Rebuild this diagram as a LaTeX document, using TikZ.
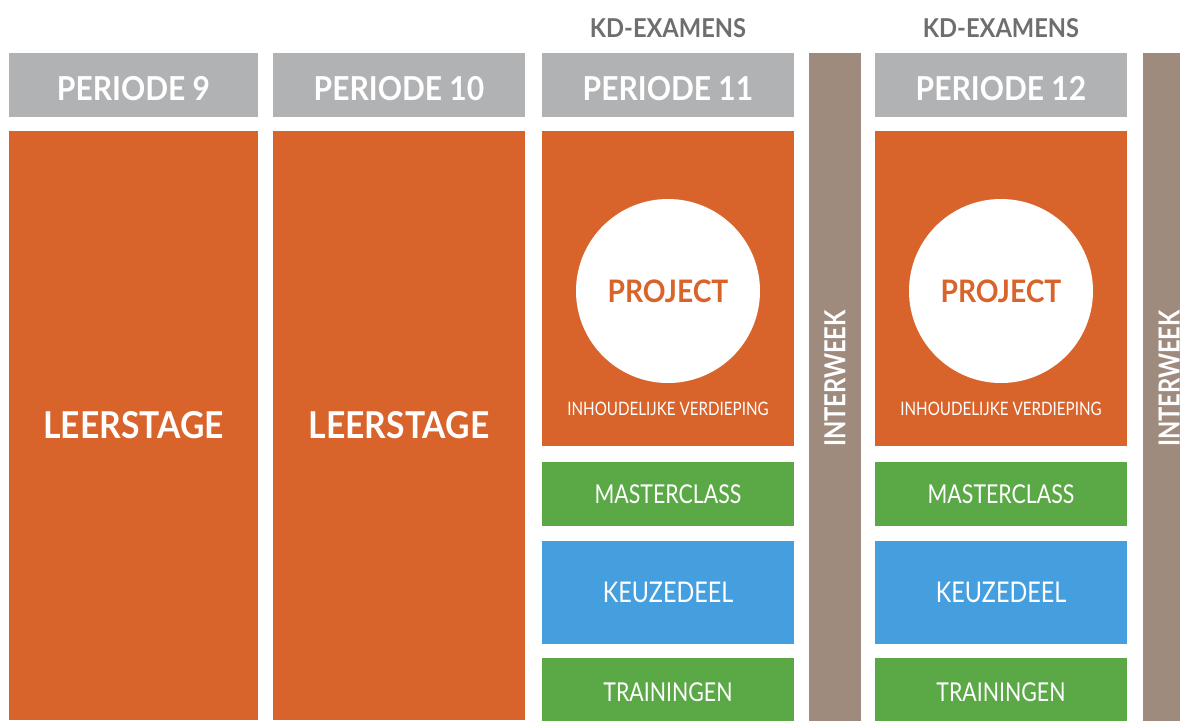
\documentclass[tikz,border=0pt]{standalone}
\usepackage{fontspec}
\setmainfont{Lato}[FakeStretch=0.91]
\newfontfamily\narrowfont{Lato}[FakeStretch=0.82]
\usetikzlibrary{positioning}
\definecolor{headcolor}{RGB}{177,178,180}
\definecolor{stagecolor}{RGB}{217,100,43}
\definecolor{greencolor}{RGB}{91,168,70}
\definecolor{bluecolor}{RGB}{69,158,221}
\definecolor{weekcolor}{RGB}{158,139,125}
\definecolor{examcolor}{RGB}{109,110,112}

\begin{document}
\begin{tikzpicture}[x=1pt,y=1pt,node distance=14pt,outer sep=0pt,inner sep=0pt,
periode/.style={
  fill=headcolor,
  minimum width=252pt,
  minimum height=64pt,
  text=white,
  text height=31pt,
  text depth=0pt,
  font={\fontsize{33}{33}\selectfont\bfseries}},
stage/.style={
  fill=stagecolor,
  minimum width=252pt,
  text=white,
  font={\fontsize{37}{37}\selectfont\bfseries}},
block/.style={
  minimum width=252pt,
  text=white,
  font={\fontsize{26}{26}\selectfont\narrowfont}},
interweek/.style={
  fill=weekcolor,
  minimum width=52pt,
  minimum height=680pt,
  anchor=north west},
]
\useasboundingbox (0,0) rectangle (1180,-720);

% kopjes
\node[periode,minimum width=249pt,anchor=north west] (P9) at (9,-53) {PERIODE 9};
\node[periode,anchor=north west] (P10) at (273,-53) {PERIODE 10};
\node[periode,anchor=north west] (P11) at (542,-53) {PERIODE 11};
\node[periode,anchor=north west] (P12) at (875,-53) {PERIODE 12};
\node[interweek] (IW1) at (809,-53) {};
\node[interweek] (IW2) at (1143,-53) {};
\node[text=examcolor,font={\fontsize{26}{26}\selectfont\bfseries},above=15pt of P11] (KD11) {KD-EXAMENS};
\node[text=examcolor,font={\fontsize{26}{26}\selectfont\bfseries},above=15pt of P12] (KD12) {KD-EXAMENS};

% leerstage
\node[stage,minimum width=249pt,minimum height=589pt,below=of P9] (LS9) {LEERSTAGE};
\node[stage,minimum height=589pt,below=of P10] (LS10) {LEERSTAGE};

% interweek
\node[rotate=90,text=white,font={\fontsize{29}{29}\selectfont\narrowfont\bfseries}] at ([yshift=14.5pt]IW1.center) (IWT1) {INTERWEEK};
\node[rotate=90,text=white,font={\fontsize{29}{29}\selectfont\narrowfont\bfseries}] at ([yshift=14.5pt]IW2.center) (IWT2) {INTERWEEK};

% periode 11 en 12
\foreach \p in {11,12}{
  \node[stage,minimum height=315pt,below=of P\p] (PRJ\p) {};
  \node[circle,fill=white,minimum size=184pt,text=stagecolor,
    font={\fontsize{31}{31}\selectfont\bfseries}] at ([yshift=-2.5pt]PRJ\p.center) (C\p) {PROJECT};
  \node[text=white,font={\fontsize{18.5}{18.5}\selectfont\narrowfont}] at ([yshift=-120.5pt]PRJ\p.center) (ID\p) {INHOUDELIJKE VERDIEPING};
  \node[block,fill=greencolor,minimum height=64pt,below=16pt of PRJ\p] (MC\p) {MASTERCLASS};
  \node[block,fill=bluecolor,minimum height=103pt,below=15pt of MC\p,font={\fontsize{28.5}{28.5}\selectfont\narrowfont}] (KZ\p) {KEUZEDEEL};
  \node[block,fill=greencolor,minimum height=68pt,below=14pt of KZ\p] (TR\p) {TRAININGEN};
}
\end{tikzpicture}
\end{document}
